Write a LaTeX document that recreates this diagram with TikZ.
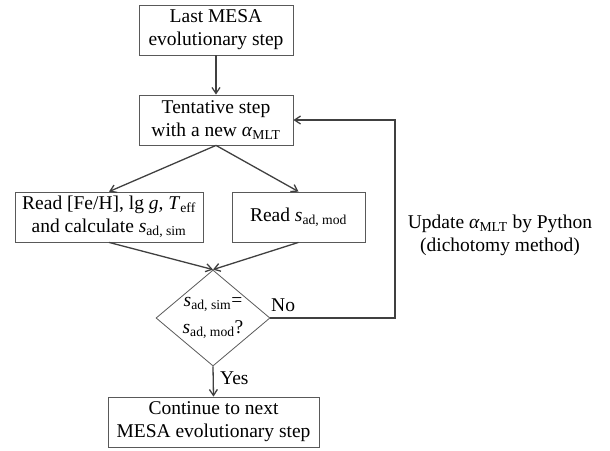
\documentclass[tikz,border=0pt]{standalone}
\usepackage{fontspec}
\setmainfont{Liberation Serif}
\usetikzlibrary{shapes.geometric,arrows.meta}
\newcommand{\sbs}[1]{\textsubscript{#1}}
\newcommand{\alp}{\textit{α}}
\begin{document}
\begin{tikzpicture}[x=1pt,y=-1pt,
  every node/.style={font=\fontsize{19.5}{23}\selectfont},
  box/.style={draw=black!65,line width=0.8pt,inner sep=0pt,align=center},
  conn/.style={draw=black!75,line width=1.3pt,-{Straight Barb[length=6pt,width=8pt]}},
  lab/.style={inner sep=0pt}]
\useasboundingbox (0,0) rectangle (610,450);
\node[box,minimum width=154,minimum height=50] (b1) at (216,30) {Last MESA\\evolutionary step};
\node[box,minimum width=154,minimum height=50] (b2) at (216,120) {Tentative step\\with a new \alp\sbs{MLT}};
\node[box,minimum width=188,minimum height=50] (b3) at (109,217) {Read [Fe/H], lg \textit{g}, \textit{T}\sbs{eff}\\and calculate \textit{s}\sbs{ad, sim}};
\node[box,minimum width=133,minimum height=50] (b4) at (298.5,217) {Read \textit{s}\sbs{ad, mod}};
\node[diamond,draw=black!65,line width=0.8pt,minimum width=114,minimum height=96,inner sep=0pt] (d) at (213,318) {};
\node[lab,align=center,font=\fontsize{19.5}{27}\selectfont] (dt) at (d) {\textit{s}\sbs{ad, sim}=\\\textit{s}\sbs{ad, mod}?};
\node[box,minimum width=211,minimum height=50] (b5) at (213.5,422) {Continue to next\\MESA evolutionary step};
\node[lab,anchor=west] (no) at (271,305) {No};
\node[lab,anchor=west] (yes) at (220,378) {Yes};
\node[lab,align=center] (upd) at (500,235) {Update \alp\sbs{MLT} by Python\\(dichotomy method)};
\coordinate (c1) at (395,318);
\draw[conn] (b1.south) -- (b2.north);
\draw[conn] (b2.south) -- (b3.north);
\draw[conn] (b2.south) -- (b4.north);
\draw[conn] (b3.south) -- (d.north);
\draw[conn] (b4.south) -- (d.north);
\draw[conn] (d.south) -- (b5.north);
\draw[conn] (d.east) -- (c1) |- (b2.east);
\end{tikzpicture}
\end{document}
